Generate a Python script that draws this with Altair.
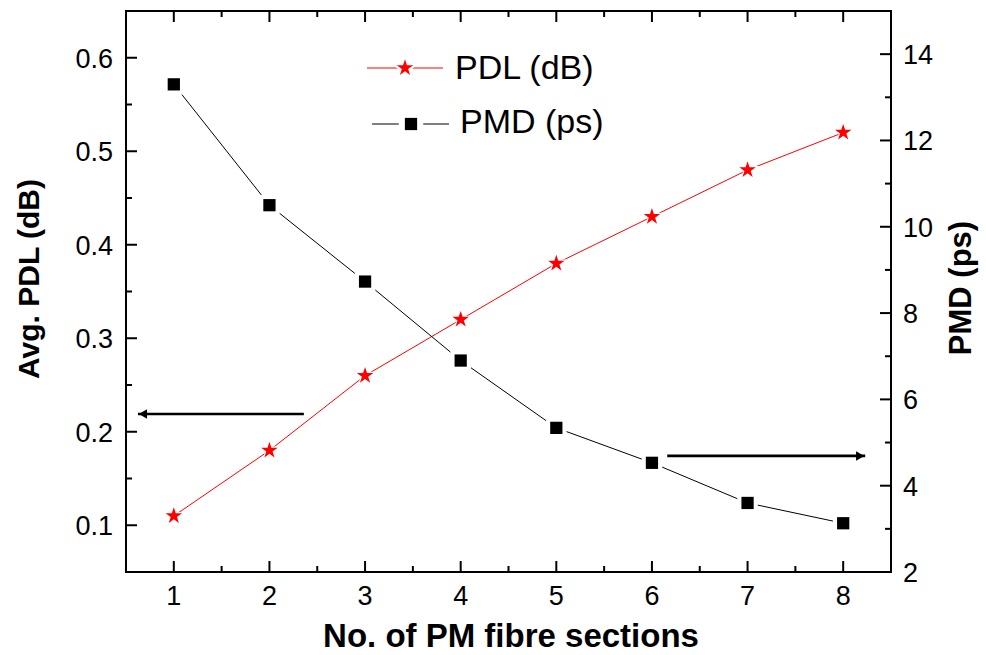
import altair as alt
import pandas as pd

# ---- data -------------------------------------------------------------
sections = [1, 2, 3, 4, 5, 6, 7, 8]
pdl_db = [0.11, 0.18, 0.26, 0.32, 0.38, 0.43, 0.48, 0.52]
pmd_ps = [13.3, 10.5, 8.73, 6.9, 5.34, 4.53, 3.6, 3.13]

x_major = [1, 2, 3, 4, 5, 6, 7, 8]
x_minor = [1.5, 2.5, 3.5, 4.5, 5.5, 6.5, 7.5]
pdl_major = [0.1, 0.2, 0.3, 0.4, 0.5, 0.6]
pdl_minor = [0.15, 0.25, 0.35, 0.45, 0.55]
pmd_major = [2, 4, 6, 8, 10, 12, 14]
pmd_minor = [3, 5, 7, 9, 11, 13]

# arrows pointing at the axis each curve belongs to
pdl_arrow_x = [2.36, 0.625]
pdl_arrow_y = [0.219, 0.219]
pmd_arrow_x = [6.16, 8.23]
pmd_arrow_y = [4.69, 4.69]

W, H = 765, 561
FONT = "Liberation Sans"
LABEL_SIZE = 27
MAJ, MIN = 11, 6

# five-pointed star in the [-1, 1] symbol box
STAR = ("M0,-1L0.2245,-0.309L0.9511,-0.309L0.3633,0.118L0.5878,0.809L0,0.382"
        "L-0.5878,0.809L-0.3633,0.118L-0.9511,-0.309L-0.2245,-0.309Z")

df = pd.DataFrame({"n": sections, "pdl": pdl_db, "pmd": pmd_ps})
one = pd.DataFrame({"k": [0]})

x_scale = alt.Scale(domain=[0.5, 8.5], nice=False, zero=False)
pdl_scale = alt.Scale(domain=[0.05, 0.65], nice=False, zero=False)
pmd_scale = alt.Scale(domain=[2, 15], nice=False, zero=False)


def ticks_df(vals):
    return pd.DataFrame({"v": vals})


def X(field):
    return alt.X(field, type="quantitative", scale=x_scale, axis=None)


def YL(field):
    return alt.Y(field, type="quantitative", scale=pdl_scale, axis=None)


def YR(field):
    return alt.Y(field, type="quantitative", scale=pmd_scale, axis=None)


def rule():
    return alt.Chart().mark_rule(color="black", strokeWidth=2)


# ---- PDL group (left axis) --------------------------------------------
pdl_line = alt.Chart(df).mark_line(color="red", strokeWidth=1).encode(x=X("n"), y=YL("pdl"))
pdl_halo = alt.Chart(df).mark_point(shape=STAR, filled=True, color="white", opacity=1,
                                    size=640).encode(x=X("n"), y=YL("pdl"))
pdl_pts = alt.Chart(df).mark_point(shape=STAR, filled=True, color="red", opacity=1,
                                   size=300).encode(x=X("n"), y=YL("pdl"))

arrow_l = pd.DataFrame({"x": pdl_arrow_x, "y": pdl_arrow_y})
pdl_arrow = alt.Chart(arrow_l).mark_line(color="black", strokeWidth=2.6).encode(x=X("x"), y=YL("y"))
pdl_head = alt.Chart(arrow_l.tail(1)).mark_point(
    shape="triangle-left", filled=True, color="black", opacity=1, size=90, xOffset=5
).encode(x=X("x"), y=YL("y"))

left_major = alt.Chart(ticks_df(pdl_major)).mark_rule(color="black", strokeWidth=2).encode(
    y=YL("v"), x=alt.value(0), x2=alt.value(MAJ))
left_minor = alt.Chart(ticks_df(pdl_minor)).mark_rule(color="black", strokeWidth=2).encode(
    y=YL("v"), x=alt.value(0), x2=alt.value(MIN))
bot_major = alt.Chart(ticks_df(x_major)).mark_rule(color="black", strokeWidth=2).encode(
    x=X("v"), y=alt.value(H), y2=alt.value(H - MAJ))
bot_minor = alt.Chart(ticks_df(x_minor)).mark_rule(color="black", strokeWidth=2).encode(
    x=X("v"), y=alt.value(H), y2=alt.value(H - MIN))
top_major = alt.Chart(ticks_df(x_major)).mark_rule(color="black", strokeWidth=2).encode(
    x=X("v"), y=alt.value(0), y2=alt.value(MAJ))
top_minor = alt.Chart(ticks_df(x_minor)).mark_rule(color="black", strokeWidth=2).encode(
    x=X("v"), y=alt.value(0), y2=alt.value(MIN))

# tick labels
left_labels = alt.Chart(ticks_df(pdl_major)).mark_text(
    align="right", baseline="alphabetic", dy=10, font=FONT, fontSize=LABEL_SIZE, color="black"
).encode(y=YL("v"), x=alt.value(-13), text=alt.Text("v:Q", format=".1f"))
bot_labels = alt.Chart(ticks_df(x_major)).mark_text(
    align="center", baseline="alphabetic", font=FONT, fontSize=LABEL_SIZE, color="black"
).encode(x=X("v"), y=alt.value(H + 33), text=alt.Text("v:Q", format="d"))

# legend: line - marker - line, then label
leg_pdl_line = alt.Chart(one).mark_rule(color="red", strokeWidth=1).encode(
    x=alt.value(241), x2=alt.value(317), y=alt.value(57))
leg_pdl_halo = alt.Chart(one).mark_point(shape=STAR, filled=True, color="white", opacity=1,
                                         size=1000).encode(x=alt.value(279), y=alt.value(57))
leg_pdl_pt = alt.Chart(one).mark_point(shape=STAR, filled=True, color="red", opacity=1,
                                       size=300).encode(x=alt.value(279), y=alt.value(57))
leg_pdl_txt = alt.Chart(one).mark_text(align="left", baseline="alphabetic", font=FONT, fontSize=34,
                                       color="black").encode(
    x=alt.value(329), y=alt.value(68), text=alt.value("PDL (dB)"))

leg_pmd_line = alt.Chart(one).mark_rule(color="black", strokeWidth=1).encode(
    x=alt.value(246), x2=alt.value(323), y=alt.value(113))
leg_pmd_halo = alt.Chart(one).mark_point(shape="square", filled=True, color="white", opacity=1,
                                         size=600).encode(x=alt.value(285), y=alt.value(113))
leg_pmd_pt = alt.Chart(one).mark_point(shape="square", filled=True, color="black", opacity=1,
                                       size=150).encode(x=alt.value(285), y=alt.value(113))
leg_pmd_txt = alt.Chart(one).mark_text(align="left", baseline="alphabetic", font=FONT, fontSize=34,
                                       color="black").encode(
    x=alt.value(334), y=alt.value(122), text=alt.value("PMD (ps)"))

# axis titles
title_x = alt.Chart(one).mark_text(align="center", baseline="alphabetic", font=FONT, fontSize=33,
                                   fontWeight="bold", color="black").encode(
    x=alt.value(385), y=alt.value(636), text=alt.value("No. of PM fibre sections"))
title_l = alt.Chart(one).mark_text(align="center", baseline="middle", font=FONT, fontSize=30,
                                   fontWeight="bold", angle=270, color="black").encode(
    x=alt.value(-96), y=alt.value(268), text=alt.value("Avg. PDL (dB)"))
title_r = alt.Chart(one).mark_text(align="center", baseline="middle", font=FONT, fontSize=31,
                                   fontWeight="bold", angle=270, color="black").encode(
    x=alt.value(W + 71), y=alt.value(277), text=alt.value("PMD (ps)"))

left_group = alt.layer(
    left_major, left_minor, bot_major, bot_minor, top_major, top_minor,
    left_labels, bot_labels,
    pdl_line, pdl_halo, pdl_pts, pdl_arrow, pdl_head,
    leg_pdl_line, leg_pdl_halo, leg_pdl_pt, leg_pdl_txt,
    leg_pmd_line, leg_pmd_halo, leg_pmd_pt, leg_pmd_txt,
    title_x, title_l, title_r,
)

# ---- PMD group (right axis) -------------------------------------------
pmd_line = alt.Chart(df).mark_line(color="black", strokeWidth=1).encode(x=X("n"), y=YR("pmd"))
pmd_halo = alt.Chart(df).mark_point(shape="square", filled=True, color="white", opacity=1,
                                    size=420).encode(x=X("n"), y=YR("pmd"))
pmd_pts = alt.Chart(df).mark_point(shape="square", filled=True, color="black", opacity=1,
                                   size=150).encode(x=X("n"), y=YR("pmd"))
arrow_r = pd.DataFrame({"x": pmd_arrow_x, "y": pmd_arrow_y})
pmd_arrow = alt.Chart(arrow_r).mark_line(color="black", strokeWidth=2.6).encode(x=X("x"), y=YR("y"))
pmd_head = alt.Chart(arrow_r.tail(1)).mark_point(
    shape="triangle-right", filled=True, color="black", opacity=1, size=90, xOffset=-5
).encode(x=X("x"), y=YR("y"))
right_major = alt.Chart(ticks_df(pmd_major)).mark_rule(color="black", strokeWidth=2).encode(
    y=YR("v"), x=alt.value(W), x2=alt.value(W - MAJ))
right_minor = alt.Chart(ticks_df(pmd_minor)).mark_rule(color="black", strokeWidth=2).encode(
    y=YR("v"), x=alt.value(W), x2=alt.value(W - MIN))
right_labels = alt.Chart(ticks_df(pmd_major)).mark_text(
    align="left", baseline="alphabetic", dy=10, font=FONT, fontSize=LABEL_SIZE, color="black"
).encode(y=YR("v"), x=alt.value(W + 12), text=alt.Text("v:Q", format="d"))

right_group = alt.layer(right_major, right_minor, right_labels,
                        pmd_line, pmd_halo, pmd_pts, pmd_arrow, pmd_head)

chart = (
    alt.layer(left_group, right_group)
    .resolve_scale(y="independent")
    .properties(
        width=W, height=H,
        padding={"left": 126, "top": 11, "right": 95, "bottom": 83},
        autosize=alt.AutoSizeParams(type="none"),
        background="white",
    )
    .configure_view(stroke="black", strokeWidth=2)
)

chart.save("out.html", embed_options={"renderer": "svg", "actions": False})
